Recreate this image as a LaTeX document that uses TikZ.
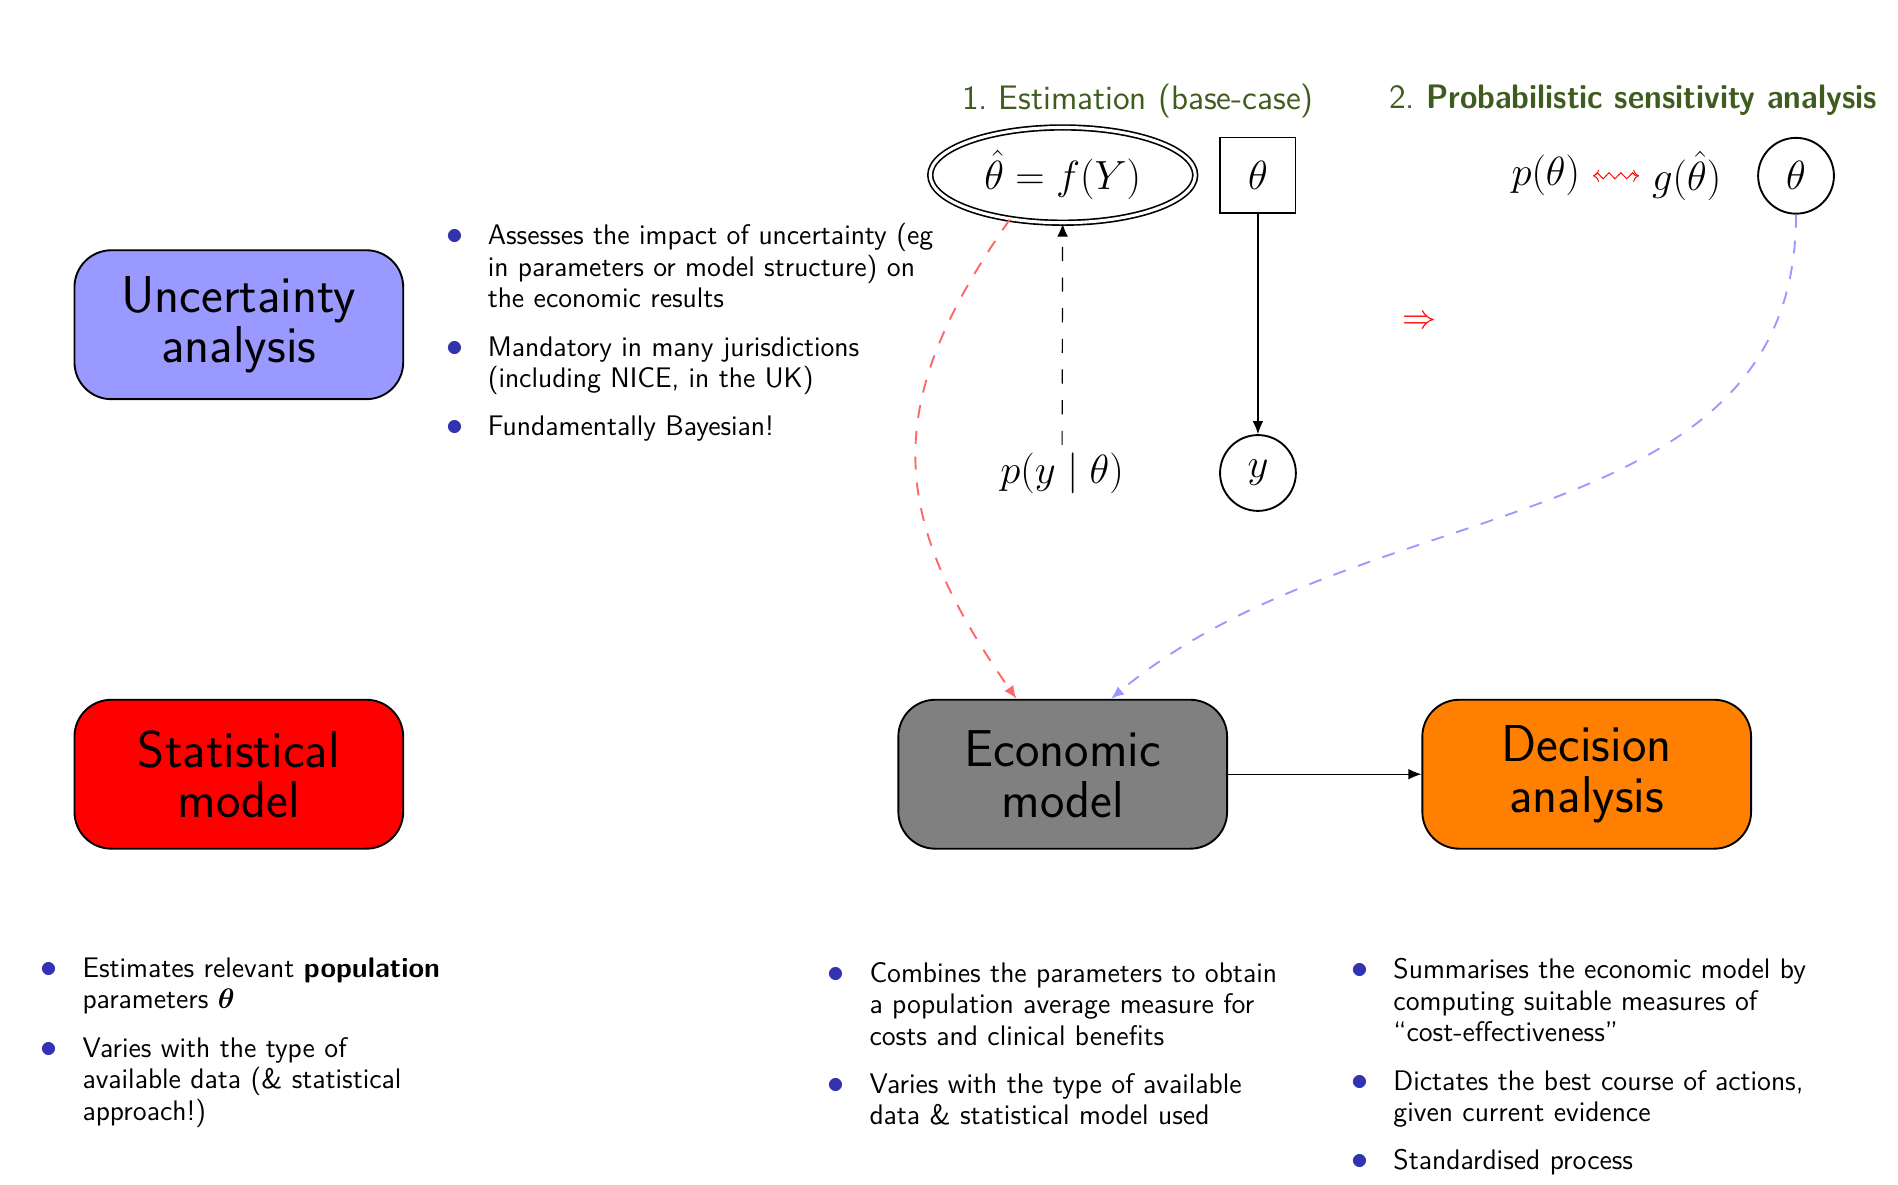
\documentclass[tikz,border=0pt]{standalone}
\usepackage{amsmath}
\usepackage{amssymb}
\usepackage{enumitem}
\usetikzlibrary{shapes.geometric, decorations.pathmorphing, arrows.meta, positioning}
\renewcommand{\familydefault}{\sfdefault}
\definecolor{itemblue}{rgb}{0.2,0.2,0.7}
\definecolor{titlegreen}{RGB}{61,92,29}
\setlist[itemize]{label={\textcolor{itemblue}{\Large$\bullet$}}, leftmargin=20pt,
    labelsep=10.5pt, topsep=0pt, partopsep=0pt, parsep=0pt, itemsep=7pt}
\tikzset{
    model/.style={rectangle, rounded corners=0.55cm, draw, line width=0.8pt,
    	minimum width=4.9cm, minimum height=2.22cm, align=center,
    	font=\fontsize{22}{21.5}\selectfont}
}
\tikzset{
    bullets/.style={anchor=north west, inner sep=0pt, text width=8.5cm, align=left,
    	font=\fontsize{12}{13.4}\selectfont},
    heading/.style={text=titlegreen, font=\Large},
    var/.style={font=\LARGE}
}
\tikzset{
    every edge/.append style={line width=0.5pt, >={Latex[length=5.5pt, width=4.5pt]}},
    est/.style={red!60, line width=0.8pt, dash pattern=on 5.5pt off 5.5pt},
    psa/.style={blue!40, line width=0.8pt, dash pattern=on 5.5pt off 5.5pt}
}

\begin{document}
\begin{tikzpicture}
	\useasboundingbox (0,0) rectangle (28.29,-17.65);

	% the four models
	\node (unc) [model, fill=blue!40] at (3.56cm, -4.84cm) {Uncertainty\\analysis};
	\node (stat) [model, fill=red] at (3.56cm, -11.54cm) {Statistical\\model};
	\node (econ) [model, fill=gray] at (15.84cm, -11.54cm) {Economic\\model};
	\node (dec) [model, fill=orange] at (23.65cm, -11.54cm) {Decision\\analysis};

	% estimation and PSA
	\node (head1) [heading] at (16.96cm, -1.50cm) {1.\ Estimation (base-case)};
	\node (head2) [heading] at (24.34cm, -1.50cm)
		{2.\ \scalebox{0.93}[1]{\textbf{Probabilistic sensitivity analysis}}};
	\node (thetahat) [var, ellipse, draw, double, double distance=1.3pt, line width=0.7pt,
		minimum width=3.95cm, minimum height=1.42cm] at (15.84cm, -2.61cm) {$\hat\theta = f(Y)$};
	\node (theta) [var, draw, line width=0.8pt, minimum size=1.12cm] at (18.75cm, -2.61cm) {$\theta$};
	\node (y) [var, circle, draw, line width=0.8pt, minimum size=1.13cm] at (18.75cm, -7.05cm) {$y$};
	\node (pyt) [var] at (15.83cm, -7.06cm) {$p(y\mid\theta)$};
	\node (ptheta) [var] at (23.04cm, -2.62cm) {$p(\theta)$};
	\node (gtheta) [var] at (25.14cm, -2.62cm) {$g(\hat\theta)$};
	\node (thetapsa) [var, circle, draw, line width=0.8pt, minimum size=1.13cm] at (26.77cm, -2.62cm) {$\theta$};
	\node (implies) [text=red, font=\Large] at (21.16cm, -4.80cm) {$\Rightarrow$};

	% bullet lists
	\node (ulist) [bullets] at (6.56cm, -3.17cm) {\begin{itemize}
		\item Assesses the impact of uncertainty (eg\\ in parameters or model structure) on\\ the economic results
		\item Mandatory in many jurisdictions\\ (including NICE, in the UK)
		\item Fundamentally Bayesian!
	\end{itemize}};
	\node (slist) [bullets] at (0.52cm, -14.09cm) {\begin{itemize}
		\item Estimates relevant \textbf{population}\\ parameters $\boldsymbol{\theta}$
		\item Varies with the type of\\ available data (\& statistical\\ approach!)
	\end{itemize}};
	\node (elist) [bullets] at (12.25cm, -14.16cm) {\begin{itemize}
		\item Combines the parameters to obtain\\ a population average measure for\\ costs and clinical benefits
		\item Varies with the type of available\\ data \& statistical model used
	\end{itemize}};
	\node (dlist) [bullets] at (20.06cm, -14.11cm) {\begin{itemize}
		\item Summarises the economic model by\\ computing suitable measures of\\ ``cost-effectiveness''
		\item Dictates the best course of actions,\\ given current evidence
		\item Standardised process
	\end{itemize}};

	\draw (theta) edge [->] (y);
	\draw (pyt) edge [->, dash pattern=on 6pt off 7pt] (thetahat);
	\draw (econ) edge [->] (dec);
	\draw (ptheta) edge [{To}-{To}, red, line width=0.4pt, shorten <=2pt, shorten >=2pt, decorate,
		decoration={zigzag, amplitude=1.3pt, segment length=5pt, pre length=2.5pt,
		post length=2.5pt}] (gtheta);
	\draw (thetahat.220) edge [est, ->, out=235, in=125, looseness=1.2] ([xshift=-0.69cm]econ.north);
	\draw (thetapsa) edge [psa, ->, out=270, in=40] ([xshift=0.72cm]econ.north);
\end{tikzpicture}
\end{document}
